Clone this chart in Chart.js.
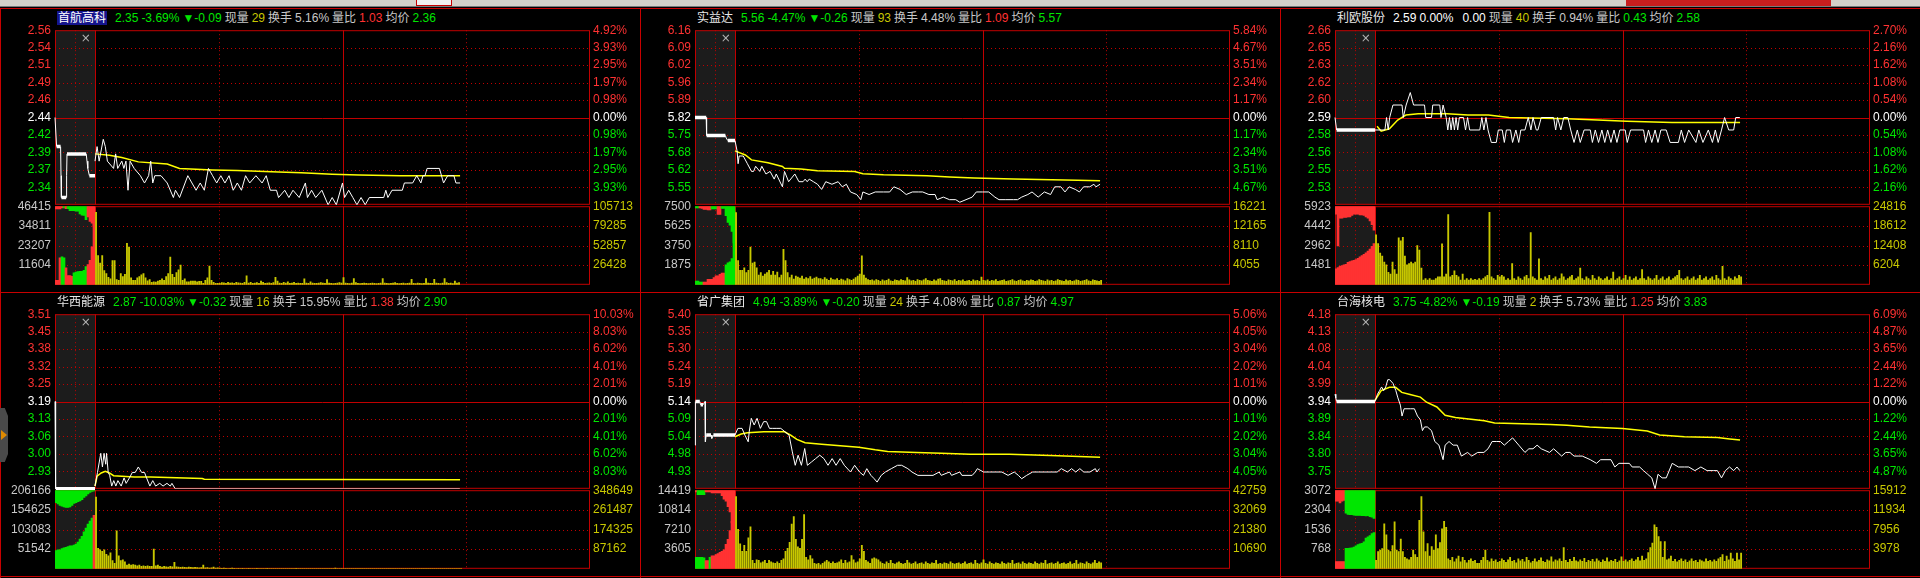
<!DOCTYPE html>
<html>
<head>
<meta charset="utf-8">
<title>分时走势</title>
<script src="https://cdn.jsdelivr.net/npm/chart.js@4.4.1/dist/chart.umd.min.js"></script>
<style>
  html, body { margin: 0; padding: 0; background: #000; }
  #stage { position: relative; width: 1920px; height: 578px; overflow: hidden; background: #000; }
  #stage canvas { position: absolute; }
  .ln { position: absolute; background: #c80000; }
  .title { position: absolute; height: 16px; line-height: 16px; white-space: nowrap; color: #c8c8c8;
           font-family: "Liberation Sans", "DejaVu Sans", "Noto Sans CJK SC"; font-size: 12px; }
  .title span { margin-right: 3px; }
  .title .name { margin-right: 8px; color: #e8e8e8; }
  .title .sel { background: #14148c; color: #fff; padding: 0 1px; }
</style>
</head>
<body>
<div id="stage">
  <div style="position:absolute;left:0;top:0;width:1920px;height:6px;background:#d4d0c8"></div>
  <div style="position:absolute;left:0;top:6px;width:1920px;height:1px;background:#7a7a7a"></div>
  <div style="position:absolute;left:416px;top:0;width:34px;height:5px;background:#f0f0f0;border:1px solid #c80000;border-top:0"></div>
  <div style="position:absolute;left:1626px;top:0;width:205px;height:6px;background:#c81e1e"></div>
  <div class="ln" style="left:0;top:8px;width:1920px;height:1px"></div>
  <div class="ln" style="left:0;top:292px;width:1920px;height:1px"></div>
  <div class="ln" style="left:0;top:576px;width:1920px;height:1px"></div>
  <div class="ln" style="left:0;top:8px;width:1px;height:570px"></div>
  <div class="ln" style="left:640px;top:8px;width:1px;height:570px"></div>
  <div class="ln" style="left:1280px;top:8px;width:1px;height:570px"></div>
  <div style="position:absolute;left:0;top:408px;width:8px;height:54px;background:#4a4a4a;clip-path:polygon(0 0,60% 0,100% 15%,100% 85%,60% 100%,0 100%)"></div>
  <div style="position:absolute;left:1px;top:430px;width:0;height:0;border-left:6px solid #e08a00;border-top:5px solid transparent;border-bottom:5px solid transparent"></div>
</div>
<script>
// ---- shared time axis ----
var aucTimes = [0.25, 0.75, 1.25, 1.75, 2.25, 2.75, 3.25, 3.75, 4.25, 4.75,
                5.25, 5.75, 6.25, 6.75, 7.25, 7.75, 8.25, 8.75, 9.25, 9.75];

// ---- 首航高科 ----
var p1Title = ["首航高科", "2.35", "-3.69%", "▼-0.09", "29", "5.16%", "1.03", "2.36"];
var p1Prev = 2.44, p1High = 2.56;
var p1PriceLabels = ["2.56", "2.54", "2.51", "2.49", "2.46", "2.44", "2.42", "2.39", "2.37", "2.34"];
var p1PctLabels = ["4.92%", "3.93%", "2.95%", "1.97%", "0.98%", "0.00%", "0.98%", "1.97%", "2.95%", "3.93%"];
var p1VolLeft = ["46415", "34811", "23207", "11604"];
var p1VolRight = ["105713", "79285", "52857", "26428"];
var p1AucPrice = [[0, 2.44], [0.4, 2.40], [1.4, 2.40], [1.5, 2.36], [1.6, 2.33], [2.8, 2.33], [2.9, 2.36], [3.0, 2.39],
  [7.8, 2.39], [8.0, 2.38], [8.2, 2.37], [8.6, 2.36], [10, 2.36]];
var p1AucMatch = [2700, 2700, 16000, -16500, -16000, 10000, 5500, 5500, 5000, -7000, -7500, -7800, -8000, -8000, -8500, -10700, 12000, 14400, 22400, 40000];
var p1AucOpen = [1600, 1600, 1600, 1000, -1000, 1500, -1500, -2700, -2700, -2700, -3000, -3000, -4500, -5300, -5500, -8000, 6400, 9000, 10000, 12000];
var p1Price = [[0, 2.38], [1, 2.40], [2, 2.38], [4, 2.41], [5, 2.40], [6, 2.38], [9, 2.37], [10, 2.39], [11, 2.37], [13, 2.38],
  [14, 2.37], [15, 2.38], [16, 2.34], [17, 2.38], [19, 2.37], [22, 2.36], [24, 2.35], [26, 2.36], [27, 2.38], [28, 2.35],
  [29, 2.36], [32, 2.36], [35, 2.35], [38, 2.33], [39, 2.34], [41, 2.33], [45, 2.36], [47, 2.35], [49, 2.34], [51, 2.35],
  [53, 2.34], [55, 2.37], [57, 2.36], [59, 2.35], [61, 2.36], [63, 2.35], [65, 2.36], [67, 2.34], [69, 2.35], [71, 2.34],
  [73, 2.36], [75, 2.35], [78, 2.36], [81, 2.35], [83, 2.36], [85, 2.34], [88, 2.34], [89, 2.33], [92, 2.34], [94, 2.33],
  [96, 2.34], [99, 2.33], [102, 2.35], [103, 2.33], [105, 2.34], [107, 2.33], [110, 2.34], [113, 2.32], [115, 2.33], [117, 2.32],
  [120, 2.35], [121, 2.33], [123, 2.34], [125, 2.33], [127, 2.32], [129, 2.33], [131, 2.32], [133, 2.33], [140, 2.33], [141, 2.34],
  [142, 2.33], [144, 2.34], [149, 2.34], [150, 2.35], [154, 2.35], [156, 2.36], [158, 2.35], [159, 2.36], [160, 2.36], [161, 2.37],
  [167, 2.37], [169, 2.35], [171, 2.36], [174, 2.36], [175, 2.35], [177, 2.35]];
var p1Avg = [[0, 2.390], [7, 2.388], [13, 2.385], [21, 2.379], [35, 2.376], [41, 2.370], [57, 2.368], [69, 2.367], [89, 2.365],
  [100, 2.364], [115, 2.362], [128, 2.361], [148, 2.360], [177, 2.360]];
var p1Vol = [97600, 39400, 29300, 39400, 19100, 15000, 10200, 8100, 32500, 32500,
  6900, 6100, 15000, 11000, 14200, 55700, 50800, 9400, 6100, 6100,
  9400, 11000, 13400, 15000, 9400, 5300, 6900, 3300, 4100, 3700,
  4900, 6100, 8100, 6100, 11000, 15000, 37400, 14200, 10200, 16300,
  20300, 26400, 6100, 8100, 4100, 4100, 4900, 4900, 4900, 4100,
  4500, 4500, 2000, 6100, 9400, 25200, 6100, 3300, 2000, 2000,
  2000, 3000, 2500, 2000, 3200, 2400, 2800, 2000, 3300, 2500,
  2400, 2000, 3200, 12200, 2400, 3300, 2000, 2400, 3000, 2000,
  4900, 3300, 2000, 2400, 2600, 2000, 3000, 10200, 4900, 2400,
  2000, 3300, 2400, 4100, 2000, 2400, 3300, 2000, 2400, 2000,
  2000, 8100, 2400, 2000, 4100, 2400, 2000, 2000, 2400, 3000,
  2400, 2000, 7000, 2400, 2000, 1600, 2000, 2400, 3000, 2400,
  9700, 2400, 2000, 1600, 2400, 8500, 3000, 2000, 1600, 2000,
  2400, 2000, 1600, 2000, 2400, 2000, 1600, 2000, 2400, 8500,
  2400, 2000, 1600, 2000, 2400, 3000, 2000, 1600, 2000, 2400,
  1600, 2000, 2400, 7300, 2000, 1600, 2400, 2000, 1600, 2000,
  8500, 2400, 2000, 2000, 7300, 2400, 2000, 1600, 2400, 8500,
  3000, 2000, 2400, 1600, 5000, 2400, 3000];

// ---- 实益达 ----
var p2Title = ["实益达", "5.56", "-4.47%", "▼-0.26", "93", "4.48%", "1.09", "5.57"];
var p2Prev = 5.82, p2High = 6.16;
var p2PriceLabels = ["6.16", "6.09", "6.02", "5.96", "5.89", "5.82", "5.75", "5.68", "5.62", "5.55"];
var p2PctLabels = ["5.84%", "4.67%", "3.51%", "2.34%", "1.17%", "0.00%", "1.17%", "2.34%", "3.51%", "4.67%"];
var p2VolLeft = ["7500", "5625", "3750", "1875"];
var p2VolRight = ["16221", "12165", "8110", "4055"];
var p2AucPrice = [[0, 5.82], [2.8, 5.82], [2.9, 5.75], [7.6, 5.75], [7.8, 5.74], [8.2, 5.73], [10, 5.73]];
var p2AucMatch = [-350, -350, -260, -260, 260, 260, 520, 520, 520, 700, 860, 860, 1000, 1120, 1120, -1900, -2100, -2200, -2500, -7000];
var p2AucOpen = [-170, -170, 170, 200, 300, 300, 350, 350, -260, -260, -260, 780, 780, -200, -200, -900, -1550, -1800, -2400, -3500];
var p2Price = [[0, 5.73], [1, 5.69], [1.5, 5.64], [2, 5.67], [4, 5.67], [6, 5.64], [8, 5.61], [9, 5.61], [10, 5.63], [12, 5.61],
  [13, 5.63], [15, 5.60], [17, 5.61], [19, 5.58], [20, 5.60], [23, 5.55], [24, 5.61], [26, 5.57], [29, 5.60], [31, 5.57],
  [33, 5.57], [34, 5.58], [35, 5.57], [36, 5.58], [38, 5.57], [40, 5.56], [42, 5.54], [44, 5.57], [47, 5.56], [50, 5.57],
  [52, 5.55], [54, 5.56], [56, 5.53], [59, 5.52], [61, 5.50], [62, 5.53], [65, 5.52], [68, 5.53], [72, 5.53], [75, 5.53],
  [77, 5.55], [80, 5.54], [83, 5.52], [86, 5.53], [89, 5.53], [91, 5.53], [94, 5.52], [97, 5.52], [98, 5.50], [101, 5.51],
  [104, 5.50], [107, 5.50], [109, 5.49], [112, 5.50], [115, 5.51], [117, 5.53], [120, 5.53], [123, 5.53], [126, 5.51], [128, 5.50],
  [131, 5.50], [135, 5.50], [137, 5.50], [139, 5.51], [142, 5.52], [144, 5.53], [147, 5.51], [150, 5.53], [153, 5.52], [155, 5.55],
  [158, 5.55], [160, 5.53], [162, 5.55], [165, 5.54], [167, 5.53], [169, 5.55], [172, 5.55], [174, 5.56], [175, 5.55], [177, 5.56]];
var p2Avg = [[0, 5.69], [5, 5.674], [8, 5.655], [16, 5.644], [23, 5.629], [24, 5.622], [32, 5.619], [40, 5.613], [58, 5.610],
  [62, 5.601], [72, 5.597], [93, 5.593], [104, 5.588], [116, 5.584], [135, 5.580], [166, 5.576], [177, 5.574]];
var p2Vol = [14900, 5000, 3000, 3000, 3500, 2500, 3000, 7800, 4500, 4700,
  3500, 2000, 2500, 1800, 2200, 2500, 3000, 2000, 2800, 2000,
  2600, 1500, 2000, 7300, 5000, 2500, 1500, 2000, 1200, 1800,
  1600, 1400, 1800, 1200, 1500, 1300, 1700, 1200, 1400, 1600,
  1300, 1300, 1100, 1500, 1200, 900, 1400, 1100, 1000, 1300,
  900, 1200, 1000, 800, 1300, 1100, 900, 1200, 1500, 1800,
  2200, 6000, 2000, 1400, 1100, 900, 1000, 800, 1100, 900,
  700, 1000, 800, 900, 1200, 800, 700, 1000, 900, 800,
  1100, 900, 800, 1500, 1000, 800, 900, 700, 1100, 900,
  800, 1000, 1300, 900, 800, 700, 1000, 800, 1200, 1300,
  900, 800, 700, 1000, 900, 800, 1100, 700, 900, 800,
  1000, 700, 800, 900, 700, 1000, 800, 900, 700, 1600,
  900, 800, 1000, 700, 900, 800, 1100, 700, 800, 900,
  1000, 700, 800, 900, 1100, 800, 700, 900, 1000, 800,
  700, 900, 800, 1000, 900, 700, 800, 1100, 900, 800,
  700, 1000, 800, 900, 700, 800, 1100, 900, 800, 700,
  1000, 800, 900, 700, 800, 1000, 900, 700, 800, 900,
  1100, 800, 700, 1000, 900, 800, 700, 900];

// ---- 利欧股份 ----
var p3Title = ["利欧股份", "2.59", "0.00%", "0.00", "40", "0.94%", "0.43", "2.58"];
var p3Prev = 2.59, p3High = 2.66;
var p3PriceLabels = ["2.66", "2.65", "2.63", "2.62", "2.60", "2.59", "2.58", "2.56", "2.55", "2.53"];
var p3PctLabels = ["2.70%", "2.16%", "1.62%", "1.08%", "0.54%", "0.00%", "0.54%", "1.08%", "1.62%", "2.16%"];
var p3VolLeft = ["5923", "4442", "2962", "1481"];
var p3VolRight = ["24816", "18612", "12408", "6204"];
var p3AucPrice = [[0, 2.59], [0.4, 2.58], [10, 2.58]];
var p3AucMatch = [1200, 1300, 1400, 1450, 1500, 1550, 1700, 1750, 1800, 1850, 1900, 2000, 2100, 2200, 2300, 2400, 2550, 2700, 2900, 3100];
var p3AucOpen = [600, 3000, 900, 900, 850, 850, 800, 800, 700, 600, 600, 600, 650, 650, 700, 800, 900, 1100, 1400, 1800];
var p3Price = [[0, 2.58], [4.8, 2.58], [5.6, 2.59], [6.4, 2.58], [7.1, 2.59], [8.7, 2.60], [13.1, 2.60], [13.7, 2.59], [15.1, 2.60], [17.1, 2.61],
  [18.7, 2.60], [24.0, 2.60], [24.6, 2.59], [27.4, 2.59], [28.0, 2.60], [31.4, 2.60], [32.0, 2.59], [33.0, 2.60], [34.5, 2.59], [35.3, 2.58],
  [36.1, 2.59], [36.9, 2.58], [37.7, 2.59], [38.5, 2.58], [39.3, 2.59], [40.1, 2.58], [40.9, 2.59], [42.9, 2.59], [43.9, 2.58], [44.9, 2.59],
  [45.9, 2.58], [50.8, 2.58], [51.8, 2.59], [52.8, 2.58], [53.8, 2.59], [54.8, 2.58], [56.4, 2.57], [58.8, 2.57], [59.8, 2.58], [61.7, 2.58],
  [62.7, 2.57], [63.7, 2.58], [65.7, 2.58], [66.7, 2.57], [68.3, 2.58], [69.7, 2.57], [70.7, 2.58], [72.7, 2.58], [74.3, 2.59], [75.6, 2.58],
  [76.6, 2.59], [78.2, 2.58], [79.0, 2.58], [80.6, 2.59], [86.6, 2.59], [87.6, 2.58], [88.5, 2.59], [90.1, 2.58], [91.5, 2.59], [93.5, 2.59],
  [94.9, 2.58], [96.5, 2.57], [98.1, 2.58], [99.5, 2.57], [101.4, 2.58], [104.4, 2.58], [105.4, 2.57], [106.8, 2.58], [108.4, 2.57], [110.0, 2.58],
  [111.4, 2.57], [112.8, 2.58], [114.4, 2.57], [115.9, 2.58], [117.3, 2.57], [118.7, 2.58], [121.3, 2.58], [122.3, 2.57], [123.9, 2.58], [130.2, 2.58],
  [131.2, 2.57], [132.6, 2.58], [134.2, 2.57], [135.8, 2.58], [137.2, 2.57], [138.6, 2.58], [141.2, 2.58], [143.1, 2.57], [147.1, 2.57], [148.5, 2.58],
  [150.1, 2.57], [152.1, 2.58], [155.6, 2.57], [157.0, 2.58], [159.0, 2.57], [161.6, 2.58], [163.6, 2.57], [165.0, 2.58], [166.4, 2.57], [168.0, 2.58],
  [169.5, 2.59], [171.5, 2.58], [173.9, 2.58], [174.9, 2.59], [176.9, 2.59]];
var p3Avg = [[1, 2.583], [3, 2.579], [7, 2.581], [11, 2.588], [15, 2.592], [21, 2.593], [35, 2.593], [45, 2.592], [55, 2.592],
  [65, 2.590], [93, 2.589], [108, 2.588], [122, 2.587], [144, 2.586], [158, 2.586], [177, 2.586]];
var p3Vol = [15800, 13000, 10000, 9100, 7200, 6300, 3900, 3400, 7200, 4800,
  3400, 14800, 13900, 15000, 9100, 6300, 6700, 7200, 6700, 7200,
  12400, 11000, 5300, 1500, 2000, 1500, 2000, 1500, 1500, 2000,
  2500, 2500, 12900, 2500, 3400, 22200, 2500, 3000, 4400, 3000,
  2500, 1500, 3400, 1500, 2000, 1500, 2000, 1500, 1700, 1500,
  2000, 1500, 2000, 2500, 3000, 22900, 2500, 2000, 1500, 3000,
  2500, 3000, 2500, 1500, 2000, 1500, 6700, 2000, 1500, 2500,
  2000, 1500, 2500, 3000, 2000, 16500, 2500, 2000, 1500, 8200,
  2000, 1500, 2500, 2000, 3000, 1500, 2000, 2500, 1500, 2000,
  3500, 2500, 1500, 2000, 2500, 3000, 1500, 2000, 2500, 5300,
  2000, 1500, 2500, 2000, 1500, 3000, 2000, 1500, 2500, 2000,
  1500, 2000, 2500, 1500, 2000, 4000, 1500, 2000, 2500, 1500,
  2000, 3000, 1500, 2500, 1500, 2000, 2500, 1500, 2000, 4800,
  2000, 1500, 2500, 2000, 1500, 2000, 3000, 1500, 2000, 2500,
  1500, 2000, 2500, 1500, 2000, 2500, 3000, 4600, 2000, 1500,
  2000, 2500, 1500, 2000, 2500, 1500, 2000, 3000, 1500, 2000,
  2500, 1500, 2000, 2500, 1500, 3000, 2000, 1500, 5800, 2000,
  1500, 2500, 2000, 1500, 2500, 2000, 3000, 2500];

// ---- 华西能源 ----
var p4Title = ["华西能源", "2.87", "-10.03%", "▼-0.32", "16", "15.95%", "1.38", "2.90"];
var p4Prev = 3.19, p4High = 3.51;
var p4PriceLabels = ["3.51", "3.45", "3.38", "3.32", "3.25", "3.19", "3.13", "3.06", "3.00", "2.93"];
var p4PctLabels = ["10.03%", "8.03%", "6.02%", "4.01%", "2.01%", "0.00%", "2.01%", "4.01%", "6.02%", "8.03%"];
var p4VolLeft = ["206166", "154625", "103083", "51542"];
var p4VolRight = ["348649", "261487", "174325", "87162"];
var p4AucPrice = [[0, 3.19], [0.1, 3.03], [0.2, 2.87], [10, 2.87]];
var p4AucMatch = [-48000, -50000, -50000, -53000, -55000, -56000, -58000, -60000, -60000, -62000,
  -65000, -70000, -78000, -85000, -97000, -107000, -117000, -125000, -133000, 140000];
var p4AucOpen = [-33000, -36000, -40000, -42000, -44000, -45000, -45000, -44000, -40000, -35000,
  -33000, -30000, -28000, -25000, -19000, -15000, -10000, -6000, -3000, -2000];
var p4Price = [[0, 2.88], [1.2, 2.93], [2.8, 3.00], [3.6, 2.95], [4.4, 3.00], [5.2, 2.96], [5.6, 3.00], [6.4, 2.93], [7.1, 2.92], [8.1, 2.88],
  [9.1, 2.90], [10.1, 2.88], [11.1, 2.90], [12.7, 2.88], [14.1, 2.91], [15.1, 2.89], [16.7, 2.91], [18.1, 2.93], [19.5, 2.93], [21.0, 2.95],
  [22.6, 2.93], [24.0, 2.93], [25.0, 2.91], [26.6, 2.88], [28.0, 2.90], [29.4, 2.88], [31.4, 2.89], [33.0, 2.88], [34.9, 2.89], [36.5, 2.88],
  [37.3, 2.89], [38.9, 2.87], [176.9, 2.87]];
var p4Avg = [[0, 2.880], [1, 2.916], [3, 2.928], [5, 2.934], [7, 2.928], [9, 2.918], [13, 2.916], [19, 2.913], [27, 2.913],
  [52, 2.908], [53, 2.905], [177, 2.903]];
var p4Vol = [318000, 91000, 84000, 77500, 84000, 64000, 57000, 71000, 37000, 24000,
  168000, 57000, 37000, 40000, 31000, 17000, 21000, 17000, 19000, 17000,
  13000, 17000, 11000, 13000, 11000, 13000, 11000, 11000, 88000, 13000,
  17000, 11000, 8000, 11000, 9000, 8000, 11000, 9000, 29000, 9000,
  8000, 6000, 8000, 6000, 5000, 8000, 6000, 5000, 6000, 5000,
  4000, 5000, 17000, 4000, 5000, 3000, 4000, 8000, 3000, 4000,
  3000, 2000, 3000, 2000, 1500, 2000, 3000, 2000, 1500, 2000,
  1500, 2000, 1000, 1500, 2000, 1000, 1500, 1000, 2000, 1500,
  1000, 1500, 1000, 2000, 1000, 1500, 1000, 1000, 1500, 1000,
  1000, 1500, 1000, 1000, 1500, 1000, 1000, 2000, 1000, 1000,
  1500, 1000, 1000, 1000, 1500, 1000, 1000, 1000, 1500, 1000,
  1000, 1000, 1500, 1000, 1000, 1000, 3000, 1000, 1000, 1000,
  1500, 1000, 1000, 1000, 1000, 1500, 1000, 1000, 1000, 1000,
  1500, 1000, 1000, 1000, 1000, 1000, 1500, 1000, 1000, 1000,
  1000, 1000, 1500, 1000, 1000, 1000, 1000, 1000, 1500, 1000,
  1000, 1000, 1000, 1000, 1500, 1000, 1000, 1000, 1000, 1000,
  1500, 1000, 1000, 1000, 1000, 1000, 1000, 1500, 1000, 1000,
  1000, 1000, 1000, 1000, 1500, 1000, 1000, 1000];

// ---- 省广集团 ----
var p5Title = ["省广集团", "4.94", "-3.89%", "▼-0.20", "24", "4.08%", "0.87", "4.97"];
var p5Prev = 5.14, p5High = 5.40;
var p5PriceLabels = ["5.40", "5.35", "5.30", "5.24", "5.19", "5.14", "5.09", "5.04", "4.98", "4.93"];
var p5PctLabels = ["5.06%", "4.05%", "3.04%", "2.02%", "1.01%", "0.00%", "1.01%", "2.02%", "3.04%", "4.05%"];
var p5VolLeft = ["14419", "10814", "7210", "3605"];
var p5VolRight = ["42759", "32069", "21380", "10690"];
var p5AucPrice = [[0, 5.01], [0.1, 5.14], [1.2, 5.14], [1.4, 5.13], [2.0, 5.13], [2.5, 5.14], [2.6, 5.02], [2.8, 5.04],
  [4.0, 5.04], [4.2, 5.03], [4.6, 5.04], [10, 5.04]];
var p5AucMatch = [-2100, -2100, -2100, -2100, -2000, 1500, 1500, -2100, 2400, 2400, 2600, 2800, 3000, 3200, 3500, 4500, 5400, 7000, 8700, 10000];
var p5AucOpen = [300, -800, -800, -800, -800, 300, 300, 300, 500, 500, 500, 500, 500, 1000, 1650, 2000, 3000, 4000, 6000, 9000];
var p5Price = [[0, 5.04], [1.4, 5.06], [3.4, 5.06], [4.8, 5.04], [6.4, 5.02], [6.9, 5.05], [7.9, 5.09], [9.3, 5.07], [10.7, 5.09], [12.3, 5.06],
  [13.9, 5.08], [15.3, 5.08], [16.7, 5.06], [18.3, 5.06], [20.3, 5.06], [22.2, 5.06], [24.2, 5.05], [26.2, 5.04], [27.8, 4.99], [29.2, 4.95],
  [30.6, 4.98], [32.2, 4.95], [33.8, 5.00], [35.1, 4.95], [37.1, 4.96], [39.1, 4.97], [41.1, 4.98], [43.1, 4.97], [45.1, 4.95], [47.1, 4.97],
  [49.0, 4.95], [51.0, 4.97], [53.0, 4.95], [56.0, 4.93], [58.0, 4.95], [60.4, 4.93], [62.3, 4.92], [63.9, 4.94], [65.9, 4.92], [67.5, 4.91],
  [68.9, 4.90], [70.9, 4.92], [72.9, 4.93], [75.8, 4.94], [78.8, 4.95], [80.8, 4.95], [83.8, 4.94], [85.8, 4.93], [88.7, 4.92], [96, 4.92],
  [99, 4.93], [100, 4.92], [104, 4.93], [105, 4.92], [109, 4.93], [110, 4.92], [115, 4.92], [116.5, 4.93], [117.5, 4.94], [120.5, 4.93],
  [123.5, 4.93], [126.5, 4.93], [129.4, 4.93], [132.4, 4.92], [135.4, 4.93], [137.4, 4.92], [139.0, 4.91], [141.4, 4.92], [144.3, 4.93], [147.3, 4.93],
  [150.3, 4.93], [153.3, 4.93], [156.2, 4.93], [158.2, 4.94], [161.2, 4.93], [163.2, 4.94], [165.2, 4.93], [167.2, 4.94], [169.1, 4.93], [172.1, 4.93],
  [174.7, 4.94], [175.5, 4.93], [176.7, 4.94]];
var p5Avg = [[0, 5.035], [3, 5.043], [6, 5.047], [14, 5.050], [24, 5.050], [27, 5.040], [30, 5.027], [34, 5.017], [42, 5.013],
  [48, 5.010], [60, 5.004], [68, 4.996], [74, 4.991], [88, 4.988], [100, 4.986], [114, 4.983], [133, 4.983], [153, 4.979], [177, 4.974]];
var p5Vol = [39300, 21500, 13600, 9500, 12800, 9500, 16900, 22800, 4600, 3000,
  4900, 4600, 3300, 3800, 4600, 3000, 4600, 3800, 3300, 3000,
  3800, 3000, 4600, 5400, 9500, 11100, 14400, 24300, 28400, 16000,
  11900, 11100, 16000, 29500, 6200, 4900, 7200, 5400, 3000, 2600,
  3000, 2100, 3000, 3800, 4600, 3800, 3000, 3800, 3000, 3300,
  3800, 4900, 3000, 4600, 3300, 3800, 7200, 4900, 3300, 3800,
  5400, 12800, 9500, 4600, 3800, 3000, 5400, 5900, 5400, 4900,
  3800, 3000, 2600, 3800, 3000, 4600, 3000, 2600, 3300, 3800,
  3000, 2600, 3000, 4600, 3300, 2600, 3000, 3800, 2600, 3000,
  3300, 2600, 3800, 3000, 2600, 3300, 3000, 4600, 2600, 3000,
  2600, 3300, 3000, 2600, 3800, 3000, 2600, 3000, 3300, 2600,
  3000, 3800, 2600, 3000, 3300, 2600, 4600, 3000, 2600, 3300,
  4900, 3000, 2600, 3800, 3000, 2600, 3300, 3000, 2600, 3800,
  3000, 2600, 3300, 3000, 4600, 2600, 3000, 3300, 2600, 3800,
  3000, 2600, 3300, 3000, 2600, 3800, 3000, 2600, 3300, 3000,
  4600, 2600, 3000, 3300, 2600, 3000, 3800, 2600, 3000, 3300,
  2600, 3000, 3800, 2600, 3000, 4600, 2600, 3300, 3000, 2600,
  3800, 3000, 2600, 3300, 4600, 3000, 3800, 3300];

// ---- 台海核电 ----
var p6Title = ["台海核电", "3.75", "-4.82%", "▼-0.19", "2", "5.73%", "1.25", "3.83"];
var p6Prev = 3.94, p6High = 4.18;
var p6PriceLabels = ["4.18", "4.13", "4.08", "4.04", "3.99", "3.94", "3.89", "3.84", "3.80", "3.75"];
var p6PctLabels = ["6.09%", "4.87%", "3.65%", "2.44%", "1.22%", "0.00%", "1.22%", "2.44%", "3.65%", "4.87%"];
var p6VolLeft = ["3072", "2304", "1536", "768"];
var p6VolRight = ["15912", "11934", "7956", "3978"];
var p6AucPrice = [[0, 3.96], [0.2, 3.95], [0.4, 3.94], [10, 3.94]];
var p6AucMatch = [280, 280, 280, 280, 280, -800, -800, -810, -820, -850, -900, -950, -980, -1000, -1050, -1200, -1250, -1300, -1380, -1420];
var p6AucOpen = [430, 430, 500, 430, 400, -900, -950, -960, -960, -980, -990, -990, -990, -1000, -1000, -1010, -1000, -1030, -1050, -1100];
var p6Price = [[0, 3.94], [1.2, 3.96], [2.2, 3.97], [3.2, 3.98], [4.2, 3.97], [5.2, 3.98], [6.2, 4.00], [7.1, 4.00], [8.7, 3.99], [10.1, 3.97],
  [11.1, 3.95], [12.3, 3.93], [13.1, 3.90], [14.1, 3.92], [17.1, 3.92], [19.1, 3.92], [20.6, 3.90], [22.0, 3.89], [23.0, 3.86], [24.0, 3.87],
  [25.4, 3.87], [27.4, 3.86], [29.0, 3.83], [31.0, 3.82], [33.0, 3.78], [34.0, 3.82], [35.9, 3.83], [37.9, 3.82], [39.9, 3.82], [41.9, 3.79],
  [44.9, 3.80], [46.9, 3.79], [49.8, 3.80], [52.8, 3.80], [54.8, 3.81], [56.8, 3.83], [58.8, 3.83], [60.8, 3.83], [62.7, 3.82], [64.7, 3.83],
  [66.7, 3.84], [69.7, 3.82], [72.7, 3.80], [74.6, 3.81], [76.6, 3.81], [78.6, 3.82], [80.6, 3.81], [84.6, 3.80], [86.6, 3.81], [90.5, 3.79],
  [92.5, 3.80], [94.5, 3.80], [96.5, 3.79], [98.5, 3.79], [100.5, 3.79], [104.4, 3.78], [107.4, 3.77], [109.4, 3.78], [114.4, 3.78], [116.3, 3.76],
  [118.3, 3.77], [123.3, 3.77], [124.7, 3.76], [128.3, 3.76], [130.2, 3.75], [132.2, 3.74], [134.2, 3.73], [135.8, 3.70], [137.2, 3.74], [139.2, 3.73],
  [141.2, 3.73], [144.1, 3.77], [147.1, 3.76], [150.1, 3.76], [152.1, 3.76], [155.1, 3.75], [158.0, 3.76], [161.0, 3.75], [164.0, 3.75], [166.0, 3.75],
  [168.0, 3.73], [169.9, 3.75], [171.9, 3.76], [173.9, 3.75], [175.5, 3.76], [176.9, 3.75]];
var p6Avg = [[0, 3.943], [3, 3.970], [7, 3.979], [10, 3.979], [13, 3.965], [17, 3.959], [22, 3.952], [25, 3.938], [30, 3.925],
  [34, 3.902], [39, 3.896], [53, 3.887], [58, 3.881], [85, 3.877], [93, 3.875], [104, 3.870], [120, 3.866], [132, 3.859],
  [138, 3.848], [150, 3.843], [166, 3.841], [172, 3.837], [177, 3.834]];
var p6Vol = [1700, 3500, 3800, 4100, 9100, 6900, 3800, 3500, 4700, 9500,
  3800, 3500, 6000, 3500, 2300, 2000, 1800, 2300, 3800, 2900,
  2300, 9800, 14600, 7500, 3500, 5100, 2600, 4500, 3800, 6900,
  4100, 5300, 8100, 9600, 8400, 2000, 1700, 2300, 1400, 2000,
  2600, 1400, 2300, 1700, 1200, 1700, 2000, 1500, 1700, 1100,
  1100, 1700, 2300, 3800, 1700, 1400, 2000, 1500, 1800, 1300,
  1500, 2000, 1700, 1300, 1800, 2300, 1500, 1700, 1200, 2000,
  1600, 1900, 1400, 2300, 1700, 1200, 1500, 2000, 1400, 1700,
  2200, 1500, 1300, 1800, 1600, 2400, 1400, 1800, 1600, 2000,
  1500, 4300, 1700, 1300, 1900, 1500, 2300, 1600, 1400, 1800,
  1500, 2100, 1300, 1700, 1500, 1900, 1400, 2000, 1600, 1300,
  1800, 1500, 2200, 1400, 1700, 1500, 1900, 1300, 1600, 2400,
  1500, 1800, 1400, 1700, 2000, 1500, 1800, 2300, 1600, 2600,
  1700, 2000, 3300, 4300, 5200, 8900, 8400, 6500, 5500, 2300,
  5500, 1800, 2000, 2600, 1500, 1900, 1400, 1700, 2000, 1500,
  1800, 1300, 1600, 2000, 1500, 1700, 1300, 1800, 1600, 1400,
  2000, 1500, 1700, 1400, 1800, 1500, 2000, 2300, 2900, 1500,
  2600, 1800, 3200, 2000, 1500, 3200, 1800, 3200];

// ---- layout ----
var RED = "#ff3232", GREEN = "#00e600", WHITE = "#ffffff", YEL = "#c8c800", GREY = "#c8c8c8", GRID = "#c00000";
var AUCTION_MIN = 10, TRADE_MIN = 240, AUC_PX = 40, TRADE_PX = 495;
var FONT = { family: "Liberation Sans, Arial, sans-serif", size: 12 };
var rows = [{ priceTop: 29, split: 205, volBottom: 292 }, { priceTop: 313, split: 489, volBottom: 576 }];
var colX = [0, 640, 1280];

var panels = [
  { col: 0, row: 0, sel: true, title: p1Title, prev: p1Prev, high: p1High, pl: p1PriceLabels, pc: p1PctLabels, vl: p1VolLeft, vr: p1VolRight, ap: p1AucPrice, am: p1AucMatch, ao: p1AucOpen, price: p1Price, avg: p1Avg, vol: p1Vol },
  { col: 1, row: 0, title: p2Title, prev: p2Prev, high: p2High, pl: p2PriceLabels, pc: p2PctLabels, vl: p2VolLeft, vr: p2VolRight, ap: p2AucPrice, am: p2AucMatch, ao: p2AucOpen, price: p2Price, avg: p2Avg, vol: p2Vol },
  { col: 2, row: 0, title: p3Title, prev: p3Prev, high: p3High, pl: p3PriceLabels, pc: p3PctLabels, vl: p3VolLeft, vr: p3VolRight, ap: p3AucPrice, am: p3AucMatch, ao: p3AucOpen, price: p3Price, avg: p3Avg, vol: p3Vol },
  { col: 0, row: 1, title: p4Title, prev: p4Prev, high: p4High, pl: p4PriceLabels, pc: p4PctLabels, vl: p4VolLeft, vr: p4VolRight, ap: p4AucPrice, am: p4AucMatch, ao: p4AucOpen, price: p4Price, avg: p4Avg, vol: p4Vol },
  { col: 1, row: 1, title: p5Title, prev: p5Prev, high: p5High, pl: p5PriceLabels, pc: p5PctLabels, vl: p5VolLeft, vr: p5VolRight, ap: p5AucPrice, am: p5AucMatch, ao: p5AucOpen, price: p5Price, avg: p5Avg, vol: p5Vol },
  { col: 2, row: 1, title: p6Title, prev: p6Prev, high: p6High, pl: p6PriceLabels, pc: p6PctLabels, vl: p6VolLeft, vr: p6VolRight, ap: p6AucPrice, am: p6AucMatch, ao: p6AucOpen, price: p6Price, avg: p6Avg, vol: p6Vol }
];

// grid, auction shading and frame drawn under the data
var gridPlugin = {
  id: "panelGrid",
  defaults: { mid: false, mark: false },
  beforeDatasetsDraw: function (chart, args, opts) {
    var ctx = chart.ctx, a = chart.chartArea, xs = chart.scales.x, xa = chart.scales.xa, ys = chart.scales.y;
    function snap(v) { return Math.round(v) + 0.5; }
    function seg(x0, y0, x1, y1, dotted) {
      ctx.setLineDash(dotted ? [1, 3] : []);
      ctx.beginPath(); ctx.moveTo(x0, y0); ctx.lineTo(x1, y1); ctx.stroke();
    }
    ctx.save();
    var a0 = xa.getPixelForValue(0), a1 = xa.getPixelForValue(AUCTION_MIN);
    ctx.fillStyle = "#1c1c1c";
    ctx.fillRect(a0, a.top, a1 - a0, a.bottom - a.top);
    ctx.lineWidth = 1;
    ctx.strokeStyle = GRID;
    var n = ys.ticks.length - 1;
    ys.ticks.forEach(function (t, i) {
      if (i === 0 || i === n) return;
      var py = snap(ys.getPixelForValue(t.value));
      seg(a.left, py, a.right, py, !(opts.mid && i === n / 2));
    });
    seg(snap(xa.getPixelForValue(AUCTION_MIN / 2)), a.top, snap(xa.getPixelForValue(AUCTION_MIN / 2)), a.bottom, true);
    [[0, false], [60, true], [120, false], [180, true]].forEach(function (v) {
      var px = snap(xs.getPixelForValue(v[0]));
      seg(px, a.top, px, a.bottom, v[1]);
    });
    ctx.setLineDash([]);
    ctx.strokeRect(a.left + 0.5, a.top + 0.5, a.right - a.left - 1, a.bottom - a.top - 1);
    if (opts.mark) {
      ctx.fillStyle = "#b4b4b4";
      ctx.font = "12px 'DejaVu Sans'";
      ctx.textAlign = "center";
      ctx.textBaseline = "middle";
      ctx.fillText("×", a0 + (a1 - a0) * 0.77, a.top + 9);
    }
    ctx.restore();
  }
};
Chart.register(gridPlugin);

function xScales() {
  return {
    x: { type: "linear", display: false, offset: false, min: -TRADE_MIN * AUC_PX / TRADE_PX, max: TRADE_MIN },
    xa: { type: "linear", display: false, offset: false, min: 0, max: AUCTION_MIN * (AUC_PX + TRADE_PX) / AUC_PX }
  };
}

function yScale(pos, min, max, n, labels, color) {
  return {
    type: "linear", position: pos, min: min, max: max,
    afterBuildTicks: function (s) {
      var t = [];
      for (var i = 0; i <= n; i++) t.push({ value: min + (max - min) * i / n });
      s.ticks = t;
    },
    afterFit: function (s) { s.width = pos === "left" ? 55 : 50; },
    grid: { display: false, drawTicks: false },
    border: { display: false },
    ticks: {
      autoSkip: false, padding: pos === "left" ? 4 : 3, font: FONT, color: color,
      callback: function (v, i) { return labels[n - i] || ""; }
    }
  };
}

function signColor(c) { return c.index > 5 ? RED : (c.index === 5 ? WHITE : GREEN); }
function xy(pairs) { return pairs.map(function (p) { return { x: p[0], y: p[1] }; }); }

function makeCanvas(x, y, w, h) {
  var c = document.createElement("canvas");
  c.width = w; c.height = h;
  c.style.left = x + "px"; c.style.top = y + "px";
  c.style.width = w + "px"; c.style.height = h + "px";
  document.getElementById("stage").appendChild(c);
  return c;
}

function makeTitle(x, y, p) {
  var t = p.title, prev = p.prev;
  var d = document.createElement("div");
  d.className = "title";
  d.style.left = x + "px"; d.style.top = y + "px";
  var last = parseFloat(t[1]);
  var c = last < prev ? GREEN : (last > prev ? RED : WHITE);
  var parts = [
    [t[0], null, p.sel ? "name sel" : "name"],
    [t[1], c], [t[2], c], [t[3], c],
    ["现量"], [t[4], YEL], ["换手"], [t[5]], ["量比"],
    [t[6], parseFloat(t[6]) >= 1 ? RED : GREEN], ["均价"], [t[7], parseFloat(t[7]) < prev ? GREEN : RED]
  ];
  parts.forEach(function (q, i) {
    var s = document.createElement("span");
    s.textContent = q[0];
    if (q[1]) s.style.color = q[1];
    if (q[2]) s.className = q[2];
    if (i === 3 && q[0].charAt(0) !== "▼") s.style.marginLeft = "6px";
    d.appendChild(s);
  });
  document.getElementById("stage").appendChild(d);
}

var common = {
  responsive: false, animation: false, events: [], devicePixelRatio: 1,
  plugins: { legend: { display: false }, tooltip: { enabled: false } }
};

// thick where the auction price holds, thin where it jumps
function aucWidth(c) { return c.p0.parsed.y === c.p1.parsed.y ? 3.5 : 1; }

panels.forEach(function (p) {
  var r = rows[p.row], x0 = colX[p.col];
  var lo = 2 * p.prev - p.high;
  makeTitle(x0 + 57, r.priceTop - 19, p);

  // price + average
  var pc = makeCanvas(x0, r.priceTop - 10, 640, r.split - r.priceTop + 21);
  var ps = xScales();
  ps.y = yScale("left", lo, p.high, 10, p.pl, signColor);
  ps.yr = yScale("right", lo, p.high, 10, p.pc, signColor);
  new Chart(pc, {
    type: "line",
    data: {
      datasets: [
        { data: xy(p.price), borderColor: WHITE, borderWidth: 1, pointRadius: 0, xAxisID: "x", yAxisID: "y" },
        { data: xy(p.avg), borderColor: "#ffff00", borderWidth: 1.5, pointRadius: 0, xAxisID: "x", yAxisID: "y" },
        { data: xy(p.ap), borderColor: WHITE, borderWidth: 3.5, segment: { borderWidth: aucWidth },
          pointRadius: 0, xAxisID: "xa", yAxisID: "y", clip: 6 }
      ]
    },
    options: Object.assign({}, common, {
      layout: { autoPadding: false, padding: { top: 10, bottom: 10, left: 0, right: 0 } },
      scales: ps,
      plugins: Object.assign({}, common.plugins, { panelGrid: { mid: true, mark: true } })
    })
  });

  // volume
  var vMaxL = Number(p.vl[0]), vMaxR = Number(p.vr[0]);
  var vc = makeCanvas(x0, r.split - 10, 640, r.volBottom - r.split + 14);
  var vs = xScales();
  vs.y = yScale("left", 0, vMaxL, 4, p.vl, GREY);
  vs.yr = yScale("right", 0, vMaxR, 4, p.vr, YEL);
  new Chart(vc, {
    type: "bar",
    data: {
      datasets: [
        { data: p.vol.map(function (v, i) { return { x: i + 0.5, y: v }; }), backgroundColor: YEL,
          barThickness: 1.2, grouped: false, xAxisID: "x", yAxisID: "yr" },
        { data: aucTimes.map(function (t, i) { return { x: t, y: Math.abs(p.am[i]) }; }),
          backgroundColor: p.am.map(function (v) { return v > 0 ? RED : GREEN; }),
          barThickness: 2, grouped: false, xAxisID: "xa", yAxisID: "y" },
        { data: aucTimes.map(function (t, i) { return { x: t, y: [vMaxL - Math.abs(p.ao[i]), vMaxL] }; }),
          backgroundColor: p.ao.map(function (v) { return v > 0 ? RED : GREEN; }),
          barThickness: 2, grouped: false, xAxisID: "xa", yAxisID: "y" }
      ]
    },
    options: Object.assign({}, common, {
      layout: { autoPadding: false, padding: { top: 10, bottom: 3, left: 0, right: 0 } },
      scales: vs,
      plugins: Object.assign({}, common.plugins, { panelGrid: { mid: false, mark: false } })
    })
  });
});
</script>
</body>
</html>
